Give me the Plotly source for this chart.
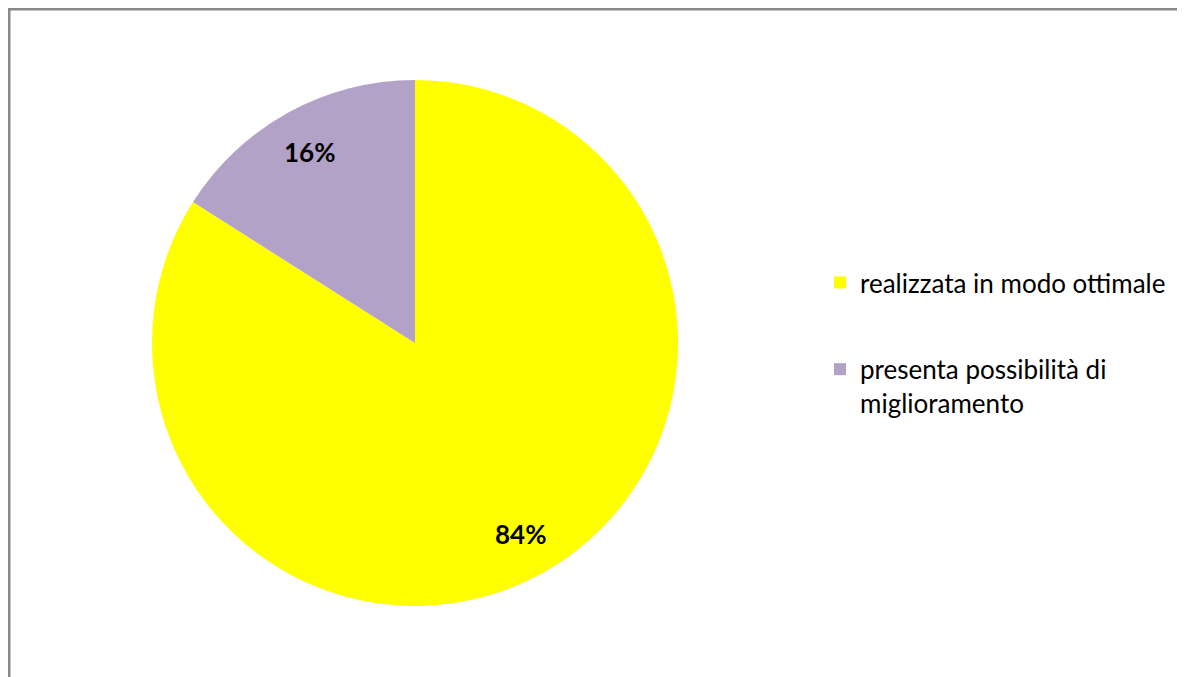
import math
import plotly.graph_objects as go

labels = ["realizzata in modo ottimale", "presenta possibilità di<br>miglioramento"]
values = [84, 16]
colors = ["#FFFF00", "#B3A2C7"]
text_labels = ["84%", "16%"]

OFF = 8  # page body margin
W, H = 1185 - OFF, 677 - OFF
cx, cy, r = 415 - OFF, 343 - OFF, 263

fig = go.Figure()
fig.add_trace(go.Pie(
    labels=labels,
    values=values,
    sort=False,
    direction="clockwise",
    rotation=0,
    marker=dict(colors=colors, line=dict(width=0)),
    textinfo="none",
    hoverinfo="percent",
    showlegend=False,
    domain=dict(x=[(cx - r) / W, (cx + r) / W], y=[1 - (cy + r) / H, 1 - (cy - r) / H]),
))

# legend entries (one group per category so the gap between them can be set)
for i, (lab, col) in enumerate(zip(labels, colors)):
    fig.add_trace(go.Scatter(
        x=[None], y=[None], mode="markers", name=lab,
        marker=dict(symbol="square", size=12, color=col),
        legendgroup="g%d" % i, showlegend=True, hoverinfo="skip",
    ))

# percentage labels along slice bisectors
total = sum(values)
start = 0.0
for v, t in zip(values, text_labels):
    mid = start + v / total * 360 / 2
    start += v / total * 360
    ang = math.radians(mid)
    px = cx + 0.83 * r * math.sin(ang)
    py = cy - 0.83 * r * math.cos(ang)
    fig.add_annotation(x=px / W, y=1 - py / H, xref="paper", yref="paper",
                       xanchor="center", yanchor="middle",
                       text="<b>%s</b>" % t, showarrow=False,
                       font=dict(family="Lato", size=26, color="#000000"))

fig.add_shape(type="rect", xref="paper", yref="paper",
              x0=0.5 / W, x1=1.02, y0=-0.02, y1=1 - 0.5 / H,
              line=dict(color="#888888", width=4), fillcolor="rgba(0,0,0,0)")

fig.update_layout(
    width=W, height=H,
    margin=dict(l=0, r=0, t=0, b=0),
    paper_bgcolor="white",
    plot_bgcolor="rgba(0,0,0,0)",
    xaxis=dict(visible=False),
    yaxis=dict(visible=False),
    font=dict(family="Lato", size=26, color="#000000"),
    legend=dict(x=(820 - OFF) / W, y=1 - (259 - OFF) / H, xanchor="left", yanchor="top",
                font=dict(family="Lato", size=26, color="#000000"),
                valign="top", itemwidth=30, tracegroupgap=50,
                bgcolor="rgba(0,0,0,0)"),
    showlegend=True,
)

fig.write_html("out.html")
